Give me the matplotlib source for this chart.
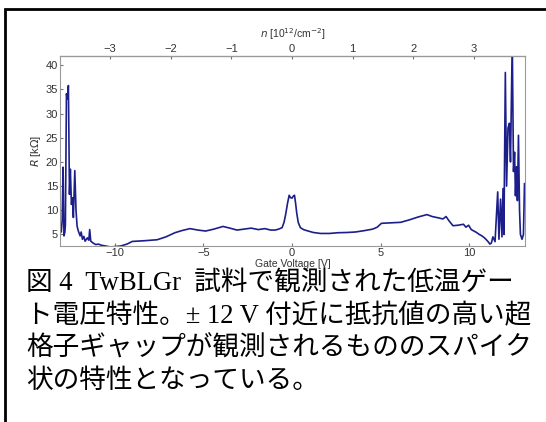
import matplotlib.pyplot as plt
from matplotlib.patches import Rectangle

# gate voltage [V] and resistance [kOhm]
v_left = [-13.07, -13.0, -12.95, -12.9, -12.85, -12.8, -12.77, -12.71, -12.66, -12.6,
          -12.54, -12.49, -12.43, -12.37, -12.32, -12.24, -12.17, -12.11, -12.04, -11.94,
          -11.88, -11.81, -11.73, -11.66, -11.53, -11.45, -11.4, -11.34, -11.2, -11.06,
          -10.9, -10.78, -10.5, -10.22, -9.95, -9.65, -9.3]
r_left = [7.5, 5.5, 8.0, 18.9, 4.7, 5.5, 7.0, 34.1, 33.0, 35.8,
          13.3, 18.5, 11.2, 12.6, 8.5, 18.2, 9.9, 6.7, 5.7, 4.7,
          5.5, 4.0, 4.6, 3.6, 4.3, 3.8, 6.0, 3.6, 3.2, 2.9,
          3.0, 2.8, 2.6, 2.4, 2.5, 2.6, 3.0]

v_mid = [-9.0, -8.3, -7.6, -7.1, -6.6, -6.2, -5.75, -5.3, -4.87, -4.4, -3.89, -3.5,
         -3.1, -2.7, -2.3, -1.9, -1.53, -1.2, -0.95, -0.75, -0.56, -0.45, -0.35, -0.25,
         -0.16, -0.08, 0.0, 0.07, 0.14, 0.2, 0.27, 0.35, 0.47, 0.65, 0.82, 1.2, 1.61,
         2.1, 2.59, 3.1, 3.57, 4.1, 4.55, 4.8, 5.04, 5.6, 6.12, 6.6, 7.1, 7.6, 7.9,
         8.28, 8.5, 8.68, 8.85, 9.07, 9.35, 9.66, 9.8, 9.95, 10.1, 10.25, 10.4, 10.55,
         10.7, 10.84, 10.95, 11.05, 11.15]
r_mid = [3.55, 3.7, 3.9, 4.5, 5.35, 5.8, 6.2, 5.9, 5.7, 6.1, 6.65, 6.3,
         5.9, 6.1, 6.3, 6.0, 6.2, 5.9, 5.9, 6.1, 6.4, 7.5, 9.3, 11.5,
         13.1, 12.6, 12.5, 12.9, 13.1, 11.5, 9.3, 7.5, 6.4, 6.0, 5.8, 5.4, 5.2,
         5.2, 5.35, 5.4, 5.5, 5.8, 6.1, 6.5, 7.3, 7.4, 7.5, 8.0, 8.6, 9.1, 8.7,
         8.4, 8.2, 8.7, 7.8, 6.8, 6.9, 7.1, 6.5, 6.9, 6.0, 5.7, 5.4, 5.0,
         4.7, 4.3, 3.9, 3.5, 3.0]

v_right = [11.23, 11.32, 11.44, 11.59, 11.66, 11.75, 11.83, 11.89, 11.94, 12.02,
           12.09, 12.17, 12.25, 12.31, 12.41, 12.48, 12.54, 12.59, 12.65, 12.7,
           12.76, 12.82, 12.87, 12.96, 13.04, 13.1]
r_right = [3.2, 4.5, 3.5, 13.8, 4.0, 12.3, 4.5, 14.5, 5.0, 38.5,
           15.0, 27.0, 28.0, 20.0, 45.0, 18.0, 22.0, 13.0, 19.0, 12.0,
           25.5, 10.0, 5.0, 4.0, 5.0, 15.5]

x_ticks = [-10, -5, 0, 5, 10]
y_ticks = [5, 10, 15, 20, 25, 30, 35, 40]
n_ticks = [-3, -2, -1, 0, 1, 2, 3]
n_per_volt = 0.2924

caption = ["図 4  TwBLGr  試料で観測された低温ゲー",
           "ト電圧特性。± 12 V 付近に抵抗値の高い超",
           "格子ギャップが観測されるもののスパイク",
           "状の特性となっている。"]

plt.rcParams['font.family'] = ['Liberation Sans', 'DejaVu Sans']
fig = plt.figure(figsize=(5.46, 4.22), dpi=100)

# frame around figure + caption
fig.patches.append(Rectangle((5 / 546, -0.1), 2, 1.1 - 9 / 422, transform=fig.transFigure,
                             fill=False, lw=2, ec='black'))

ax = fig.add_axes([0.110, 0.417, 0.8516, 0.4502])
ax.plot(v_left + v_mid + v_right, r_left + r_mid + r_right, color='#1c1f8a', lw=1.2)
ax.set_xlim(-13.07, 13.13)
ax.set_ylim(2.6, 41.9)
ax.set_xticks(x_ticks)
ax.set_yticks(y_ticks)
for s in ax.spines.values():
    s.set_color('#9a9a9a')
ax.tick_params(direction='in', length=2, color='#777777', labelsize=8, labelcolor='#333333', pad=1.5)
ax.set_xlabel('Gate Voltage [V]', fontsize=7.5, color='#333333', labelpad=1)
ax.set_ylabel(r'$R$ [k$\Omega$]', fontsize=8, color='#333333', labelpad=2)

top = ax.secondary_xaxis('top', functions=(lambda v: v * n_per_volt, lambda n: n / n_per_volt))
top.set_xticks(n_ticks)
top.tick_params(direction='in', length=2, color='#777777', labelsize=8, labelcolor='#333333', pad=1.5)
top.set_xlabel(r'$n$ [10$^{12}$/cm$^{-2}$]', fontsize=7.5, color='#333333', labelpad=4)

for i, line in enumerate(caption):
    fig.text(26 / 546, 1 - (284 + i * 32.5) / 422, line, fontsize=19.2, va='center', ha='left',
             family=['Liberation Serif', 'Noto Sans CJK JP'], color='black')

fig.savefig('out.png', dpi=100)
